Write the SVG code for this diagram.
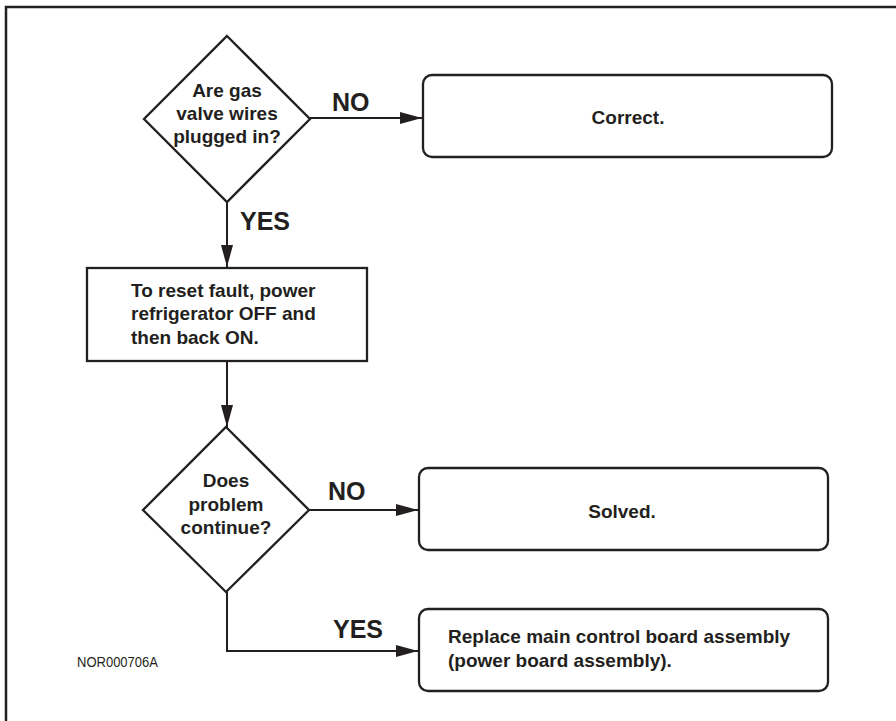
<svg xmlns="http://www.w3.org/2000/svg" width="896" height="721" viewBox="0 0 896 721">
<defs>
<style>
.shape{fill:#fff;stroke:#231f20;stroke-width:2.3}
.conn{fill:none;stroke:#231f20;stroke-width:2}
.t{font-family:"Liberation Sans",Arial,sans-serif;font-weight:bold;font-size:19px;fill:#231f20}
.lbl{font-family:"Liberation Sans",Arial,sans-serif;font-weight:bold;font-size:25px;fill:#231f20}
.c{text-anchor:middle}
</style>
<marker id="arr" viewBox="0 0 22 12" refX="22" refY="6" markerWidth="22" markerHeight="12" markerUnits="userSpaceOnUse" orient="auto">
<path d="M0,0 L22,6 L0,12 Z" fill="#231f20"/>
</marker>
</defs>
<rect width="896" height="721" fill="#fff"/>
<path d="M6,721 V7 H896" fill="none" stroke="#231f20" stroke-width="2.5"/>

<g id="connectors">
<line class="conn" x1="310" y1="118" x2="422" y2="118" marker-end="url(#arr)"/>
<line class="conn" x1="227" y1="202" x2="227" y2="267" marker-end="url(#arr)"/>
<line class="conn" x1="227" y1="361" x2="227" y2="427" marker-end="url(#arr)"/>
<line class="conn" x1="309" y1="510" x2="418" y2="510" marker-end="url(#arr)"/>
<polyline class="conn" points="227,592 227,651 418,651" marker-end="url(#arr)"/>
<text class="lbl" x="332" y="111">NO</text>
<text class="lbl" x="240" y="230">YES</text>
<text class="lbl" x="328" y="500">NO</text>
<text class="lbl" x="333" y="638">YES</text>
</g>

<g id="q1">
<polygon class="shape" points="227,36 310,119 227,202 144,119"/>
<text class="t c" x="227" y="97">Are gas</text>
<text class="t c" x="227" y="120">valve wires</text>
<text class="t c" x="227" y="143">plugged in?</text>
</g>

<g id="correct">
<rect class="shape" x="423" y="75" width="409" height="82" rx="9"/>
<text class="t c" x="628" y="124">Correct.</text>
</g>

<g id="reset">
<rect class="shape" x="87" y="268" width="280" height="93"/>
<text class="t" x="131" y="297">To reset fault, power</text>
<text class="t" x="131" y="320">refrigerator OFF and</text>
<text class="t" x="131" y="344">then back ON.</text>
</g>

<g id="q2">
<polygon class="shape" points="226,427 309,510 226,592 143,510"/>
<text class="t c" x="226" y="487">Does</text>
<text class="t c" x="226" y="511">problem</text>
<text class="t c" x="226" y="534">continue?</text>
</g>

<g id="solved">
<rect class="shape" x="419" y="468" width="409" height="82" rx="9"/>
<text class="t c" x="622" y="518">Solved.</text>
</g>

<g id="replace">
<rect class="shape" x="419" y="609" width="409" height="82" rx="9"/>
<text class="t" x="448" y="643">Replace main control board assembly</text>
<text class="t" x="448" y="667">(power board assembly).</text>
</g>

<text x="77" y="667" font-family="'Liberation Sans',Arial,sans-serif" font-size="15" fill="#231f20" textLength="81" lengthAdjust="spacingAndGlyphs">NOR000706A</text>
</svg>
